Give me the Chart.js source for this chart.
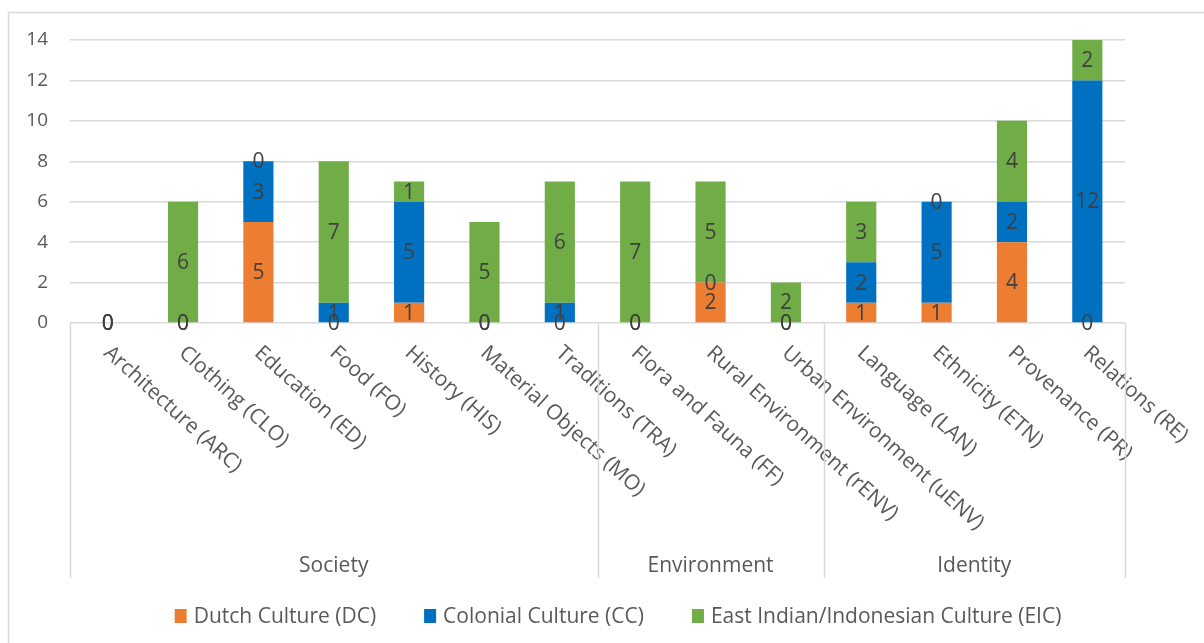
<!DOCTYPE html>
<html>
<head>
<meta charset="utf-8">
<title>Cultural themes by category</title>
<script src="https://cdn.jsdelivr.net/npm/chart.js@4.4.1/dist/chart.umd.min.js"></script>
<style>
  html, body { margin: 0; padding: 0; background: #ffffff; }
  #wrap { width: 1204px; height: 643px; position: relative; }
</style>
</head>
<body>
<div id="wrap"><canvas id="chart" width="1204" height="643"></canvas></div>
<script>
// Category names (in display order) and the theme group each run of categories belongs to
const categories = [
  'Architecture (ARC)', 'Clothing (CLO)', 'Education (ED)', 'Food (FO)', 'History (HIS)',
  'Material Objects (MO)', 'Traditions (TRA)', 'Flora and Fauna (FF)',
  'Rural Environment (rENV)', 'Urban Environment (uENV)', 'Language (LAN)',
  'Ethnicity (ETN)', 'Provenance (PR)', 'Relations (RE)'
];
const groupNames = ['Society', 'Environment', 'Identity'];
const groupSizes = [7, 3, 4];

// Counts per category for each culture
const dutchCulture      = [0, 0, 5, 0, 1, 0, 0, 0, 2, 0, 1, 1, 4, 0];
const colonialCulture   = [0, 0, 3, 1, 5, 0, 1, 0, 0, 0, 2, 5, 2, 12];
const eastIndianCulture = [0, 6, 0, 7, 1, 5, 6, 7, 5, 2, 3, 0, 4, 2];

const seriesNames  = ['Dutch Culture (DC)', 'Colonial Culture (CC)', 'East Indian/Indonesian Culture (EIC)'];
const seriesColors = ['#ED7D31', '#0070C0', '#70AD47'];

// Value axis ticks
const yTicks = [0, 2, 4, 6, 8, 10, 12, 14];

const FONT = '"Open Sans", "Noto Sans", sans-serif';
const TEXT_GREY = '#595959';
const LINE_GREY = '#d9d9d9';

// Outer frame of the chart
const framePlugin = {
  id: 'frame',
  beforeDraw(chart) {
    const ctx = chart.ctx;
    ctx.save();
    ctx.strokeStyle = LINE_GREY;
    ctx.lineWidth = 1.5;
    ctx.beginPath();
    ctx.moveTo(8.5, chart.height);
    ctx.lineTo(8.5, 12.5);
    ctx.lineTo(chart.width, 12.5);
    ctx.stroke();
    ctx.restore();
  }
};

// Segment values written in the middle of each bar piece
const valueLabelPlugin = {
  id: 'valueLabels',
  afterDatasetsDraw(chart) {
    const ctx = chart.ctx;
    ctx.save();
    ctx.font = '21px ' + FONT;
    ctx.fillStyle = '#404040';
    ctx.textAlign = 'center';
    ctx.textBaseline = 'middle';
    chart.data.datasets.forEach((ds, di) => {
      const meta = chart.getDatasetMeta(di);
      meta.data.forEach((bar, i) => {
        const p = bar.getProps(['x', 'y', 'base'], true);
        ctx.fillText(String(ds.data[i]), p.x, (p.y + p.base) / 2 + 1);
      });
    });
    ctx.restore();
  }
};

// Rotated category names, group separators and group names below the bars
const categoryAxisPlugin = {
  id: 'categoryAxis',
  afterDraw(chart) {
    const ctx = chart.ctx;
    const xs = chart.scales.x;
    const area = chart.chartArea;
    const step = xs.getPixelForValue(1) - xs.getPixelForValue(0);
    const sepBottom = 578;

    ctx.save();
    // rotated labels
    ctx.font = '21px ' + FONT;
    ctx.fillStyle = TEXT_GREY;
    ctx.textAlign = 'left';
    ctx.textBaseline = 'middle';
    categories.forEach((name, i) => {
      const cx = xs.getPixelForValue(i);
      ctx.save();
      ctx.translate(cx - 1, area.bottom + 27);
      ctx.rotate(42 * Math.PI / 180);
      ctx.fillText(name, 0, 0);
      ctx.restore();
    });

    // separators between groups
    ctx.strokeStyle = LINE_GREY;
    ctx.lineWidth = 1.5;
    let start = 0;
    const edges = [start];
    groupSizes.forEach(n => { start += n; edges.push(start); });
    edges.forEach(e => {
      const x = Math.round(xs.getPixelForValue(e) - step / 2) + 0.5;
      ctx.beginPath();
      ctx.moveTo(x, area.bottom);
      ctx.lineTo(x, sepBottom);
      ctx.stroke();
    });

    // group names
    ctx.font = '21px ' + FONT;
    ctx.textAlign = 'center';
    ctx.textBaseline = 'middle';
    groupNames.forEach((g, k) => {
      const x0 = xs.getPixelForValue(edges[k]) - step / 2;
      const x1 = xs.getPixelForValue(edges[k + 1]) - step / 2;
      ctx.fillText(g, (x0 + x1) / 2, 566);
    });
    ctx.restore();
  }
};

// Legend row at the foot of the chart
const legendRowPlugin = {
  id: 'legendRow',
  afterDraw(chart) {
    const ctx = chart.ctx;
    ctx.save();
    ctx.font = '21px ' + FONT;
    const boxW = 12, boxH = 14, boxGap = 7, itemGap = 48;
    const widths = seriesNames.map(n => boxW + boxGap + ctx.measureText(n).width);
    const total = widths.reduce((a, b) => a + b, 0) + itemGap * (widths.length - 1);
    let x = 618 - total / 2;
    const cy = 616;
    chart.data.datasets.forEach((ds, i) => {
      ctx.fillStyle = ds.backgroundColor;
      ctx.fillRect(x, cy - boxH / 2, boxW, boxH);
      ctx.fillStyle = TEXT_GREY;
      ctx.textAlign = 'left';
      ctx.textBaseline = 'middle';
      ctx.fillText(ds.label, x + boxW + boxGap, cy + 1);
      x += widths[i] + itemGap;
    });
    ctx.restore();
  }
};

const seriesData = [dutchCulture, colonialCulture, eastIndianCulture];

new Chart(document.getElementById('chart'), {
  type: 'bar',
  data: {
    labels: categories,
    datasets: seriesData.map((values, i) => ({
      label: seriesNames[i],
      data: values,
      backgroundColor: seriesColors[i],
      borderWidth: 0,
      categoryPercentage: 1.0,
      barPercentage: 0.4
    }))
  },
  options: {
    responsive: false,
    animation: false,
    devicePixelRatio: 1,
    layout: { padding: { left: 8, right: 79, top: 40, bottom: 0 } },
    plugins: {
      legend: { display: false },
      tooltip: { enabled: false }
    },
    scales: {
      x: {
        stacked: true,
        grid: { display: false },
        border: { display: false },
        ticks: { display: false },
        afterFit(axis) { axis.height = 320; }
      },
      y: {
        stacked: true,
        min: yTicks[0],
        max: yTicks[yTicks.length - 1],
        afterBuildTicks(axis) { axis.ticks = yTicks.map(v => ({ value: v })); },
        ticks: {
          font: { family: FONT, size: 19 },
          color: TEXT_GREY,
          padding: 22
        },
        grid: { color: LINE_GREY, lineWidth: 1.5, drawTicks: false },
        border: { display: false },
        afterFit(axis) { axis.width = 62; }
      }
    }
  },
  plugins: [framePlugin, valueLabelPlugin, categoryAxisPlugin, legendRowPlugin]
});
</script>
</body>
</html>
